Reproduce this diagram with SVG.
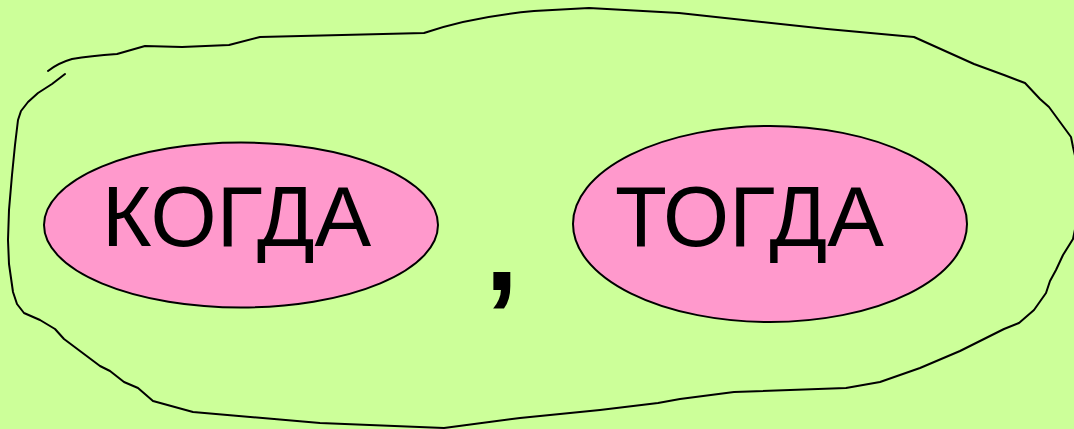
<svg xmlns="http://www.w3.org/2000/svg" width="1074" height="429" viewBox="0 0 1074 429">
<style>
.bg{fill:#CCFF99}
.oval{fill:#FF99CC;stroke:#000;stroke-width:2}
.outline{fill:none;stroke:#000;stroke-width:2;stroke-linejoin:round;stroke-linecap:round}
.lbl{font-family:"Liberation Sans",Arial,sans-serif;font-size:85px;fill:#000}
.comma{font-family:"Liberation Sans",Arial,sans-serif;font-size:120px;font-weight:bold;fill:#000}
</style>
<rect class="bg" x="0" y="0" width="1074" height="429"/>
<g id="outline">
<path class="outline" d="M65,74 L52,84 L38,93 L28,102 L21,111 L18,120 L15,145 L12,175 L9,210 L8,240 L9,264 L13,292 L17,304 L24,313 L40,320 L55,329 L64,339 L80,351 L100,366 L110,371 L124,382 L138,388 L153,401 L193,412 L320,423 L444,428 L520,418 L540,416 L600,410 L658,403 L680,399 L734,392 L846,388 L880,382 L920,368 L960,351 L1004,329 L1019,323 L1034,310 L1046,293 L1050,281 L1056,270 L1063,255 L1073,239 L1078,215 L1079,190 L1076,160 L1073,147 L1071,137 L1049,107 L1040,99 L1025,83 L1004,75 L974,64 L914,37 L827,29 L679,13 L589,8 L534,11 Q470,17 424,33 L260,37 L229,45 L182,47 L145,46 L117,54 Q90,56 72,59 Q58,63 48,71"/>
</g>
<g id="node-kogda">
<ellipse class="oval" cx="241" cy="225" rx="197" ry="82.5"/>
<text class="lbl" x="102" y="246">КОГДА</text>
</g>
<g id="node-comma">
<text class="comma" x="485" y="290">,</text>
</g>
<g id="node-togda">
<ellipse class="oval" cx="770" cy="224" rx="197" ry="98"/>
<text class="lbl" x="615" y="246">ТОГДА</text>
</g>
</svg>
